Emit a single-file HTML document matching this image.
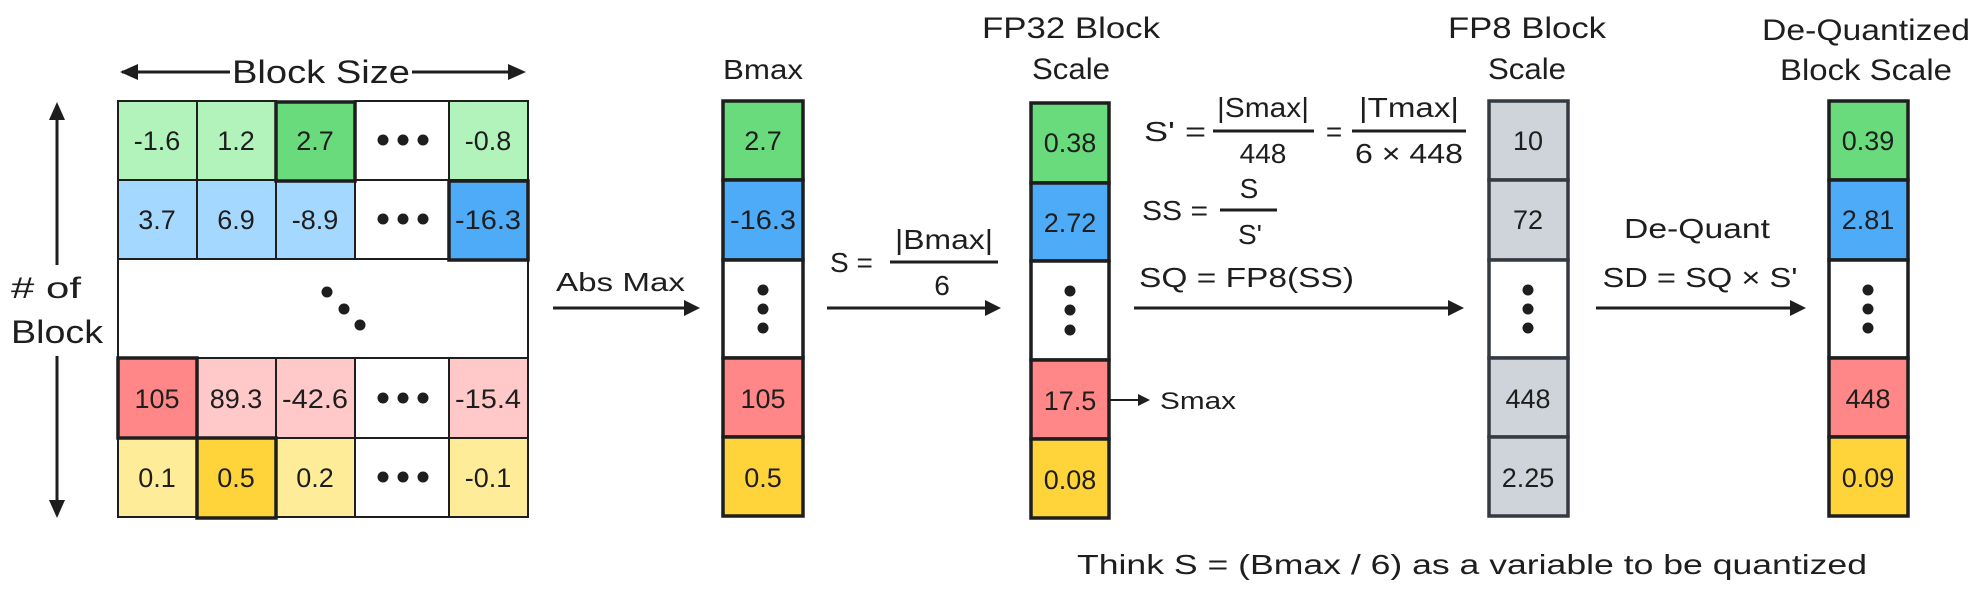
<!DOCTYPE html>
<html><head><meta charset="utf-8"><style>html,body{margin:0;padding:0;background:#fff}svg{display:block}</style></head>
<body>
<svg width="1984" height="593" viewBox="0 0 1984 593" xmlns="http://www.w3.org/2000/svg">
<g font-family="Liberation Sans, sans-serif" fill="#1e1e1e">
<line x1="122" y1="72" x2="230" y2="72" stroke="#1e1e1e" stroke-width="3"/>
<line x1="412" y1="72" x2="522" y2="72" stroke="#1e1e1e" stroke-width="3"/>
<path d="M120,72 L138,64 L138,80 z"/><path d="M526,72 L508,64 L508,80 z"/>
<text x="321" y="83" font-size="32" text-anchor="middle" textLength="178" lengthAdjust="spacingAndGlyphs">Block Size</text>
<line x1="57" y1="108" x2="57" y2="265" stroke="#1e1e1e" stroke-width="3"/>
<line x1="57" y1="356" x2="57" y2="512" stroke="#1e1e1e" stroke-width="3"/>
<path d="M57,102 L49,120 L65,120 z"/><path d="M57,518 L49,500 L65,500 z"/>
<text x="11" y="298" font-size="30" textLength="70" lengthAdjust="spacingAndGlyphs"># of</text>
<text x="11" y="343" font-size="32" textLength="92" lengthAdjust="spacingAndGlyphs">Block</text>

<g stroke="#1e1e1e" stroke-width="2">
<rect x="118" y="101" width="79" height="79" fill="#b2f2bb"/>
<rect x="197" y="101" width="79" height="79" fill="#b2f2bb"/>
<rect x="355" y="101" width="94" height="79" fill="#fff"/>
<rect x="449" y="101" width="79" height="79" fill="#b2f2bb"/>
<rect x="118" y="180" width="79" height="79" fill="#a5d8ff"/>
<rect x="197" y="180" width="79" height="79" fill="#a5d8ff"/>
<rect x="276" y="180" width="79" height="79" fill="#a5d8ff"/>
<rect x="355" y="180" width="94" height="79" fill="#fff"/>
<rect x="118" y="259" width="410" height="99" fill="#fff"/>
<rect x="197" y="358" width="79" height="80" fill="#ffc9c9"/>
<rect x="276" y="358" width="79" height="80" fill="#ffc9c9"/>
<rect x="355" y="358" width="94" height="80" fill="#fff"/>
<rect x="449" y="358" width="79" height="80" fill="#ffc9c9"/>
<rect x="118" y="438" width="79" height="79" fill="#ffec99"/>
<rect x="276" y="438" width="79" height="79" fill="#ffec99"/>
<rect x="355" y="438" width="94" height="79" fill="#fff"/>
<rect x="449" y="438" width="79" height="79" fill="#ffec99"/>
</g>
<g stroke="#1e1e1e" stroke-width="3.5">
<rect x="276" y="102" width="79" height="79" fill="#69db7c"/>
<rect x="449" y="181" width="79" height="79" fill="#4dabf7"/>
<rect x="118" y="358" width="79" height="80" fill="#ff8787"/>
<rect x="197" y="438" width="79" height="80" fill="#ffd43b"/>
</g>
<g font-size="27" text-anchor="middle">
<text x="157" y="150">-1.6</text><text x="236" y="150">1.2</text><text x="315" y="150">2.7</text><text x="488" y="150">-0.8</text>
<text x="157" y="229">3.7</text><text x="236" y="229">6.9</text><text x="315" y="229">-8.9</text><text x="488" y="229" textLength="66" lengthAdjust="spacingAndGlyphs">-16.3</text>
<text x="157" y="408">105</text><text x="236" y="408">89.3</text><text x="315" y="408" textLength="66" lengthAdjust="spacingAndGlyphs">-42.6</text><text x="488" y="408" textLength="66" lengthAdjust="spacingAndGlyphs">-15.4</text>
<text x="157" y="487">0.1</text><text x="236" y="487">0.5</text><text x="315" y="487">0.2</text><text x="488" y="487">-0.1</text>
</g>
<g>
<circle cx="383" cy="140" r="5.5"/><circle cx="403" cy="140" r="5.5"/><circle cx="423" cy="140" r="5.5"/>
<circle cx="383" cy="219" r="5.5"/><circle cx="403" cy="219" r="5.5"/><circle cx="423" cy="219" r="5.5"/>
<circle cx="383" cy="398" r="5.5"/><circle cx="403" cy="398" r="5.5"/><circle cx="423" cy="398" r="5.5"/>
<circle cx="383" cy="477" r="5.5"/><circle cx="403" cy="477" r="5.5"/><circle cx="423" cy="477" r="5.5"/>
<circle cx="327" cy="292" r="5.5"/><circle cx="344" cy="309" r="5.5"/><circle cx="360" cy="325" r="5.5"/>
</g>

<text x="556" y="291" font-size="26" textLength="129" lengthAdjust="spacingAndGlyphs">Abs Max</text>
<line x1="553" y1="308" x2="690" y2="308" stroke="#1e1e1e" stroke-width="3"/>
<path d="M700,308 L684,300 L684,316 z"/>

<text x="763" y="79" font-size="28" text-anchor="middle" textLength="80" lengthAdjust="spacingAndGlyphs">Bmax</text>
<g stroke="#1e1e1e" stroke-width="3.5">
<rect x="723" y="101" width="80" height="79" fill="#69db7c"/>
<rect x="723" y="180" width="80" height="80" fill="#4dabf7"/>
<rect x="723" y="260" width="80" height="98" fill="#fff"/>
<rect x="723" y="358" width="80" height="79" fill="#ff8787"/>
<rect x="723" y="437" width="80" height="79" fill="#ffd43b"/>
</g>
<g font-size="27" text-anchor="middle">
<text x="763" y="150">2.7</text><text x="763" y="229" textLength="66" lengthAdjust="spacingAndGlyphs">-16.3</text><text x="763" y="408">105</text><text x="763" y="487">0.5</text>
</g>
<circle cx="763" cy="290" r="5.5"/><circle cx="763" cy="309" r="5.5"/><circle cx="763" cy="328" r="5.5"/>

<text x="830" y="272" font-size="28">S =</text>
<line x1="890" y1="262" x2="998" y2="262" stroke="#1e1e1e" stroke-width="3"/>
<text x="944" y="249" font-size="28" text-anchor="middle" textLength="98" lengthAdjust="spacingAndGlyphs">|Bmax|</text>
<text x="942" y="295" font-size="28" text-anchor="middle">6</text>
<line x1="827" y1="308" x2="990" y2="308" stroke="#1e1e1e" stroke-width="3"/>
<path d="M1001,308 L985,300 L985,316 z"/>

<text x="1071" y="38" font-size="30" text-anchor="middle" textLength="178" lengthAdjust="spacingAndGlyphs">FP32 Block</text>
<text x="1071" y="79" font-size="30" text-anchor="middle" textLength="78" lengthAdjust="spacingAndGlyphs">Scale</text>
<g stroke="#1e1e1e" stroke-width="3.5">
<rect x="1031" y="103" width="78" height="80" fill="#69db7c"/>
<rect x="1031" y="183" width="78" height="78" fill="#4dabf7"/>
<rect x="1031" y="261" width="78" height="99" fill="#fff"/>
<rect x="1031" y="360" width="78" height="79" fill="#ff8787"/>
<rect x="1031" y="439" width="78" height="79" fill="#ffd43b"/>
</g>
<g font-size="27" text-anchor="middle">
<text x="1070" y="152">0.38</text><text x="1070" y="232">2.72</text><text x="1070" y="410">17.5</text><text x="1070" y="489">0.08</text>
</g>
<circle cx="1070" cy="291" r="5.5"/><circle cx="1070" cy="310" r="5.5"/><circle cx="1070" cy="330" r="5.5"/>
<line x1="1110" y1="400" x2="1140" y2="400" stroke="#1e1e1e" stroke-width="2"/>
<path d="M1150,400 L1138,394 L1138,406 z"/>
<text x="1160" y="409" font-size="24" textLength="76" lengthAdjust="spacingAndGlyphs">Smax</text>

<text x="1144" y="141" font-size="28" textLength="62" lengthAdjust="spacingAndGlyphs">S' =</text>
<line x1="1213" y1="131" x2="1314" y2="131" stroke="#1e1e1e" stroke-width="3"/>
<text x="1263" y="117" font-size="28" text-anchor="middle" textLength="92" lengthAdjust="spacingAndGlyphs">|Smax|</text>
<text x="1263" y="163" font-size="28" text-anchor="middle">448</text>
<text x="1334" y="141" font-size="28" text-anchor="middle">=</text>
<line x1="1352" y1="131" x2="1466" y2="131" stroke="#1e1e1e" stroke-width="3"/>
<text x="1409" y="117" font-size="28" text-anchor="middle" textLength="100" lengthAdjust="spacingAndGlyphs">|Tmax|</text>
<text x="1409" y="163" font-size="28" text-anchor="middle" textLength="108" lengthAdjust="spacingAndGlyphs">6 × 448</text>
<text x="1142" y="220" font-size="28" textLength="66" lengthAdjust="spacingAndGlyphs">SS =</text>
<line x1="1220" y1="210" x2="1277" y2="210" stroke="#1e1e1e" stroke-width="3"/>
<text x="1249" y="198" font-size="28" text-anchor="middle">S</text>
<text x="1250" y="244" font-size="28" text-anchor="middle">S'</text>
<text x="1139" y="287" font-size="28" textLength="215" lengthAdjust="spacingAndGlyphs">SQ = FP8(SS)</text>
<line x1="1134" y1="308" x2="1452" y2="308" stroke="#1e1e1e" stroke-width="3"/>
<path d="M1464,308 L1448,300 L1448,316 z"/>

<text x="1527" y="38" font-size="30" text-anchor="middle" textLength="158" lengthAdjust="spacingAndGlyphs">FP8 Block</text>
<text x="1527" y="79" font-size="30" text-anchor="middle" textLength="78" lengthAdjust="spacingAndGlyphs">Scale</text>
<g stroke="#343a40" stroke-width="3.5">
<rect x="1489" y="101" width="79" height="79" fill="#ced4da"/>
<rect x="1489" y="180" width="79" height="80" fill="#ced4da"/>
<rect x="1489" y="260" width="79" height="98" fill="#fff"/>
<rect x="1489" y="358" width="79" height="79" fill="#ced4da"/>
<rect x="1489" y="437" width="79" height="79" fill="#ced4da"/>
</g>
<g font-size="27" text-anchor="middle">
<text x="1528" y="150">10</text><text x="1528" y="229">72</text><text x="1528" y="408">448</text><text x="1528" y="487">2.25</text>
</g>
<circle cx="1528" cy="290" r="5.5"/><circle cx="1528" cy="309" r="5.5"/><circle cx="1528" cy="328" r="5.5"/>

<text x="1697" y="238" font-size="28" text-anchor="middle" textLength="146" lengthAdjust="spacingAndGlyphs">De-Quant</text>
<text x="1700" y="287" font-size="28" text-anchor="middle" textLength="195" lengthAdjust="spacingAndGlyphs">SD = SQ × S'</text>
<line x1="1596" y1="308" x2="1795" y2="308" stroke="#1e1e1e" stroke-width="3"/>
<path d="M1806,308 L1790,300 L1790,316 z"/>

<text x="1866" y="40" font-size="30" text-anchor="middle" textLength="208" lengthAdjust="spacingAndGlyphs">De-Quantized</text>
<text x="1866" y="80" font-size="30" text-anchor="middle" textLength="172" lengthAdjust="spacingAndGlyphs">Block Scale</text>
<g stroke="#1e1e1e" stroke-width="3.5">
<rect x="1829" y="101" width="79" height="79" fill="#69db7c"/>
<rect x="1829" y="180" width="79" height="80" fill="#4dabf7"/>
<rect x="1829" y="260" width="79" height="98" fill="#fff"/>
<rect x="1829" y="358" width="79" height="79" fill="#ff8787"/>
<rect x="1829" y="437" width="79" height="79" fill="#ffd43b"/>
</g>
<g font-size="27" text-anchor="middle">
<text x="1868" y="150">0.39</text><text x="1868" y="229">2.81</text><text x="1868" y="408">448</text><text x="1868" y="487">0.09</text>
</g>
<circle cx="1868" cy="290" r="5.5"/><circle cx="1868" cy="309" r="5.5"/><circle cx="1868" cy="328" r="5.5"/>

<text x="1077" y="574" font-size="28" textLength="790" lengthAdjust="spacingAndGlyphs">Think S = (Bmax / 6) as a variable to be quantized</text>
</g>
</svg>
</body></html>
